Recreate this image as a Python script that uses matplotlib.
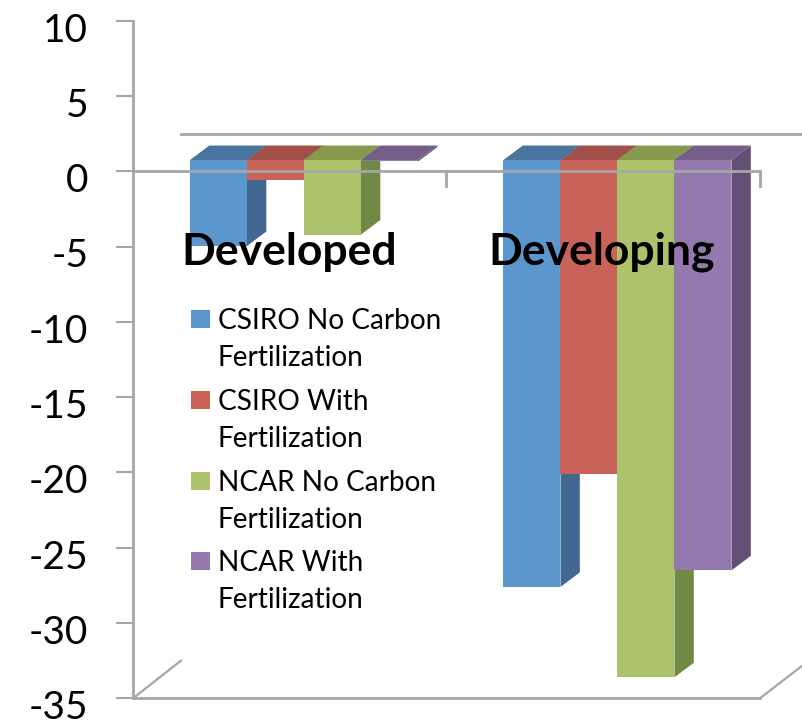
import matplotlib
matplotlib.use('Agg')
import matplotlib.pyplot as plt
from matplotlib.patches import Polygon, Rectangle
from matplotlib.transforms import ScaledTranslation

plt.rcParams['font.family'] = ['Lato', 'DejaVu Sans']

# Valores
grupos = ['Developed', 'Developing']
series = ['CSIRO No Carbon\nFertilization', 'CSIRO With\nFertilization',
          'NCAR No Carbon\nFertilization', 'NCAR With\nFertilization']
csiro_sem = [-4.96, -27.6]
csiro_com = [-0.58, -20.1]
ncar_sem = [-4.2, -33.6]
ncar_com = [0.65, -26.5]
valores = [csiro_sem, csiro_com, ncar_sem, ncar_com]
yticks = [10, 5, 0, -5, -10, -15, -20, -25, -30, -35]

# frente, topo, lado
cores = [('#5B96CC', '#4A74A0', '#426790'),
         ('#C9635A', '#A14F49', '#8F4640'),
         ('#ADC36B', '#87994F', '#708A45'),
         ('#9379AE', '#755E89', '#634E76')]

cinza = '#A6A6A6'
W, H = 803, 720
fig = plt.figure(figsize=(W / 100, H / 100), dpi=100)
ax = fig.add_axes([133 / W, 1 - 698.3 / H, (760 - 133) / W, (698.3 - 20.7) / H])
ax.set_xlim(0, 2)
ax.set_ylim(-35, 10)

largura = 1 / 5.5
base = 0.75      # o topo das barras fica acima do zero
dx = 0.0616      # profundidade 3D
dy = 0.96
parede_x = 0.153
parede_y = 2.5

# parede e chao atras das barras
ax.plot([parede_x, 2.14], [parede_y, parede_y], color=cinza, lw=2, clip_on=False, zorder=1)
ax.plot([0, parede_x], [-35, -35 + parede_y], color=cinza, lw=1.6, clip_on=False, zorder=1)
ax.plot([2, 2.14], [-35, -35 + parede_y * 0.9], color=cinza, lw=1.6, clip_on=False, zorder=1)

z = 2
for g in range(len(grupos)):
    for s, vals in enumerate(valores):
        x0 = g + (s + 1) * largura
        x1 = x0 + largura
        v = vals[g]
        frente, topo, lado = cores[s]
        ax.add_patch(Polygon([(x1, base), (x1 + dx, base + dy), (x1 + dx, v + dy), (x1, v)],
                             facecolor=lado, edgecolor='none', clip_on=False, zorder=z))
        ax.add_patch(Polygon([(x0, base), (x0 + dx, base + dy), (x1 + dx, base + dy), (x1, base)],
                             facecolor=topo, edgecolor='none', clip_on=False, zorder=z))
        ax.bar(x0, v - base, width=largura, bottom=base, align='edge', color=frente, zorder=z + 0.5)
        z += 1

# linha do zero com as marcas das categorias, por cima das barras
ax.plot([0, 2], [0, 0], color=cinza, lw=2, zorder=50)
for xt in [1, 2]:
    ax.plot([xt, xt], [0, -1], color=cinza, lw=2, zorder=50, clip_on=False)

for lado_ax in ['top', 'right']:
    ax.spines[lado_ax].set_visible(False)
ax.spines['left'].set_color(cinza)
ax.spines['left'].set_linewidth(2)
ax.spines['bottom'].set_color(cinza)
ax.spines['bottom'].set_linewidth(2)

ax.set_xticks([])
ax.set_yticks(yticks)
ax.set_yticklabels([str(t) for t in yticks])
ax.tick_params(axis='y', length=12.2, width=1.5, color=cinza, pad=20, labelsize=28, labelcolor='black')
desce = ScaledTranslation(0, -4.6 / 72, fig.dpi_scale_trans)
for rotulo in ax.get_yticklabels():
    rotulo.set_transform(rotulo.get_transform() + desce)

# nomes dos grupos
for xc, nome in zip([0.497, 1.4955], grupos):
    ax.text(xc, -6.22, nome, ha='center', va='baseline', fontsize=32, fontweight='bold',
            color='black', zorder=60)

# legenda
def px(x, y):
    return x / W, 1 - y / H

legenda_y = [319, 400, 481, 561]
for ly, nome, c in zip(legenda_y, series, cores):
    fig.add_artist(Rectangle(px(191, ly + 9), 19 / W, 18 / H, transform=fig.transFigure,
                             facecolor=c[0], edgecolor='none', zorder=60))
    xt, yt = px(218, ly - 11)
    fig.text(xt, yt, nome, ha='left', va='top', fontsize=20.2, linespacing=1.52,
             color='black', zorder=60)

fig.savefig('out.png', dpi=100)
